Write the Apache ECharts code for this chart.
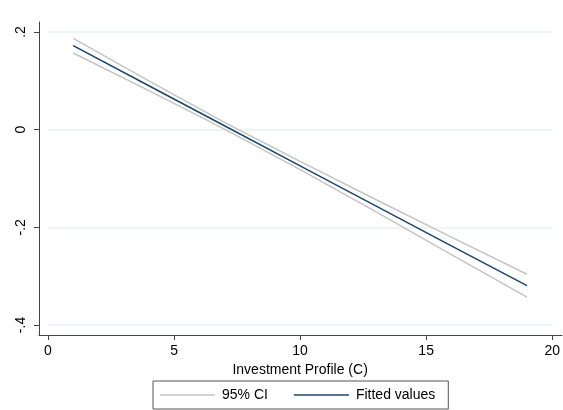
<!DOCTYPE html>
<html>
<head>
<meta charset="utf-8">
<script src="https://cdn.jsdelivr.net/npm/echarts@6/dist/echarts.min.js"></script>
<style>
  html, body { margin: 0; padding: 0; background: #fff; }
  #chart { width: 563px; height: 410px; }
</style>
</head>
<body>
<div id="chart"></div>
<script>
// Linear fit of the outcome on Investment Profile (C), with its 95% confidence band
const xValues   = [1, 4, 7, 10, 13, 16, 19];
const fitted    = [0.172, 0.090, 0.008, -0.074, -0.156, -0.238, -0.3195];
const ciUpper   = [0.187, 0.100, 0.015, -0.065, -0.143, -0.220, -0.296];
const ciLower   = [0.157, 0.080, 0.001, -0.082, -0.168, -0.256, -0.343];

const xTicks = [0, 5, 10, 15, 20];
const yTicks = [-0.4, -0.2, 0, 0.2];
const xTitle = 'Investment Profile (C)';

const pairs = arr => xValues.map((x, i) => [x, arr[i]]);
const fmtY = v => {
  const s = String(Math.round(v * 10) / 10);
  return s.replace(/^0\./, '.').replace(/^-0\./, '-.');
};

const font = 'Liberation Sans, Arial, sans-serif';
const axisColor = '#444';

const chart = echarts.init(document.getElementById('chart'));
chart.setOption({
  animation: false,
  backgroundColor: '#fff',
  grid: [
    // outer frame: carries the axis lines
    { left: 39, right: 1, top: 22, bottom: 75, containLabel: false },
    // inner region: carries the data scale, ticks and labels
    { left: 48, right: 10, top: 32, bottom: 85, containLabel: false }
  ],
  xAxis: [
    {
      gridIndex: 0, type: 'value', min: 0, max: 1,
      axisLine: { show: true, onZero: false, lineStyle: { color: axisColor, width: 1 } },
      axisTick: { show: false }, axisLabel: { show: false }, splitLine: { show: false }
    },
    {
      gridIndex: 1, type: 'value', min: xTicks[0], max: xTicks[xTicks.length - 1], interval: 5,
      position: 'bottom', offset: 10,
      axisLine: { show: false, onZero: false },
      axisTick: { show: true, length: 5, lineStyle: { color: axisColor } },
      axisLabel: { margin: 9, color: '#000', fontSize: 14, fontFamily: font },
      splitLine: { show: false },
      name: xTitle, nameLocation: 'middle', nameGap: 26,
      nameTextStyle: { color: '#000', fontSize: 14, fontFamily: font }
    }
  ],
  yAxis: [
    {
      gridIndex: 0, type: 'value', min: 0, max: 1,
      axisLine: { show: true, onZero: false, lineStyle: { color: axisColor, width: 1 } },
      axisTick: { show: false }, axisLabel: { show: false }, splitLine: { show: false }
    },
    {
      gridIndex: 1, type: 'value', min: yTicks[0], max: yTicks[yTicks.length - 1], interval: 0.2,
      position: 'left', offset: 9,
      axisLine: { show: false, onZero: false },
      axisTick: { show: true, length: 5, lineStyle: { color: axisColor } },
      axisLabel: {
        rotate: 90, margin: 11, color: '#000', fontSize: 14, fontFamily: font,
        formatter: fmtY
      },
      splitLine: { show: true, lineStyle: { color: '#eaf2f3', width: 1.5 } }
    }
  ],
  legend: {
    data: ['95% CI', 'Fitted values'],
    left: 153, top: 381,
    orient: 'horizontal',
    icon: 'rect',
    itemWidth: 55, itemHeight: 1.5, itemGap: 26,
    padding: [7, 13, 7, 7],
    borderColor: '#555', borderWidth: 1,
    textStyle: { color: '#000', fontSize: 14, fontFamily: font, padding: [0, 0, 0, 2], lineHeight: 14 }
  },
  series: [
    {
      name: '95% CI', type: 'line', xAxisIndex: 1, yAxisIndex: 1,
      data: pairs(ciUpper), symbol: 'none',
      lineStyle: { color: '#c4c4c4', width: 1.5 }, itemStyle: { color: '#c4c4c4' }
    },
    {
      name: '95% CI', type: 'line', xAxisIndex: 1, yAxisIndex: 1,
      data: pairs(ciLower), symbol: 'none',
      lineStyle: { color: '#c4c4c4', width: 1.5 }, itemStyle: { color: '#c4c4c4' }
    },
    {
      name: 'Fitted values', type: 'line', xAxisIndex: 1, yAxisIndex: 1,
      data: pairs(fitted), symbol: 'none',
      lineStyle: { color: '#1a476f', width: 1.5 }, itemStyle: { color: '#1a476f' }
    }
  ]
});
</script>
</body>
</html>
